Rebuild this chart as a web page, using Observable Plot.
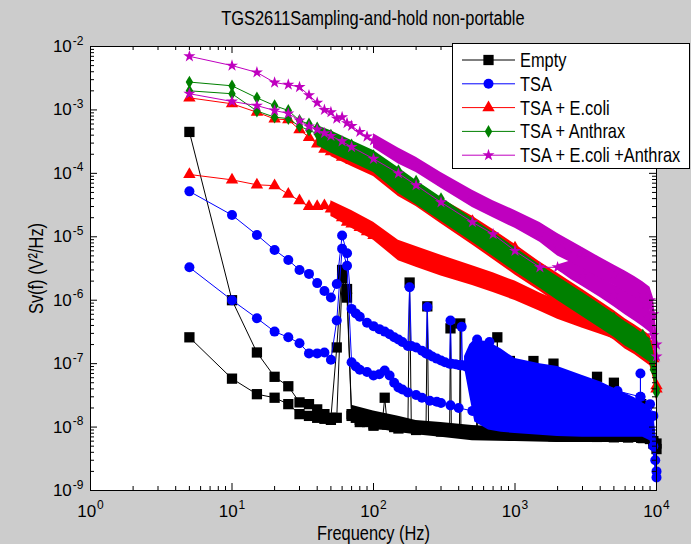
<!DOCTYPE html>
<html><head><meta charset="utf-8">
<script src="https://cdn.jsdelivr.net/npm/d3@7"></script>
<script src="https://cdn.jsdelivr.net/npm/@observablehq/plot@0.6"></script>
<style>
html,body{margin:0;padding:0;background:#cccccc;}
#wrap{position:relative;width:691px;height:544px;overflow:hidden;background:#cccccc;font-family:"Liberation Sans",Arial,sans-serif;}
#title{position:absolute;left:90px;width:566px;top:6px;text-align:center;line-height:24px;color:#000;}
#title span{display:inline-block;font-size:20px;transform:scaleX(0.82);white-space:nowrap;}
#chart{position:absolute;left:0;top:30px;}
#legend{position:absolute;left:0;top:0;pointer-events:none;}
</style></head><body>
<div id="wrap"><div id="title"><span>TGS2611Sampling-and-hold non-portable</span></div><div id="chart"></div><svg id="legend" width="691" height="544"></svg></div>
<script>
const FONT = '"Liberation Sans",Arial,sans-serif';
const CONDENSE = 0.82;

// ---- series names / colours ----
const seriesNames = ["Empty", "TSA", "TSA + E.coli", "TSA + Anthrax", "TSA + E.coli +Anthrax"];
const seriesColors = ["#000000", "#0000ff", "#ff0000", "#008000", "#bf00bf"];
const seriesSymbols = ["square", "circle", "triangle", "diamond", "star"];

// ---- Empty (two runs) ----
const emptyA_f = [5,10,15,20,25,30,35,40,45,50,55,60,65,70,75,80,90,100,115,120,125,140,175,180,185,200,235,240,245,300,345,350,355,405,410,415,535,540,545,745,750,755,915,920,925,1345,1350,1355,1865,1870,1875,3795,3800,3805,4995,5000,5005,6295,6300,6305,7795,7800,7805,9000,9500,10000];
const emptyA_v = [4.5e-4,1.0e-6,1.5e-7,6.2e-8,4.4e-8,2.45e-8,2.3e-8,1.9e-8,1.6e-8,1.4e-8,1.8e-7,3.0e-6,1.5e-6,1.6e-8,1.4e-8,1.3e-8,1.2e-8,1.1e-8,1.1e-8,2.9e-8,1.1e-8,1.0e-8,1.0e-8,1.9e-6,1.0e-8,9.8e-9,9.5e-9,8.0e-7,9.5e-9,9.0e-9,8.8e-9,3.6e-7,8.8e-9,8.5e-9,4.3e-7,8.5e-9,8.2e-9,1.3e-7,8.2e-9,8.0e-9,2.6e-7,8.0e-9,7.8e-9,1.1e-7,7.8e-9,7.5e-9,1.1e-7,7.5e-9,7.2e-9,1.0e-7,7.2e-9,7.0e-9,6.2e-8,7.0e-9,7.0e-9,5.0e-8,7.0e-9,6.9e-9,2.3e-8,6.9e-9,6.8e-9,2.3e-8,6.8e-9,6.5e-9,6.0e-9,5.5e-9];
const emptyB_f = [5,10,15,20,25,30,35,40,45,50,55,60,65,70,80,100,150,200,300,500,1000,2000,5000,8000,9000,9500,10000];
const emptyB_v = [2.6e-7,5.8e-8,3.3e-8,2.9e-8,2.3e-8,1.6e-8,1.5e-8,1.4e-8,1.35e-8,1.3e-8,1.4e-8,2.2e-6,1.1e-6,1.5e-8,1.2e-8,1.05e-8,9.5e-9,9.0e-9,8.5e-9,8.0e-9,7.6e-9,7.2e-9,6.9e-9,6.7e-9,6.5e-9,5.5e-9,4.5e-9];
const emptyBand_f  = [70,100,150,200,300,500,1000,2000,5000,8000,9000,9500,10000];
const emptyBand_hi = [2.2e-8,1.8e-8,1.48e-8,1.27e-8,1.18e-8,1.06e-8,9.8e-9,9.5e-9,9.1e-9,8.8e-9,8.5e-9,7.9e-9,6.1e-9];
const emptyBand_lo = [1.27e-8,9.5e-9,8.2e-9,7.6e-9,6.9e-9,6.1e-9,5.9e-9,5.7e-9,5.7e-9,5.7e-9,5.3e-9,4.7e-9,4.3e-9];

// ---- TSA ----
const tsaA_f = [5,10,15,20,25,30,35,40,45,50,55,60,65,70,75,80,90,100,110,120,130,140,150,160,175,180,185,200,220,235,240,245,260,280,300,320,345,350,355,380,400,415,420,425,450,500,535,540,545,655,660,665,700,1000,2000,4000,5300,7695,7700,7705,9000,9500,10000];
const tsaA_v = [5.2e-5,2.2e-5,1.07e-5,6.2e-6,4.3e-6,3.0e-6,2.6e-6,1.86e-6,1.4e-6,1.1e-6,1.8e-6,1.05e-5,5.5e-6,7.3e-7,6.2e-7,5.5e-7,4.4e-7,3.9e-7,3.5e-7,3.2e-7,2.9e-7,2.6e-7,2.4e-7,2.2e-7,1.9e-7,1.6e-6,1.9e-7,1.8e-7,1.6e-7,1.45e-7,7.8e-7,1.4e-7,1.3e-7,1.2e-7,1.12e-7,1.05e-7,1.0e-7,4.8e-7,1.0e-7,9.8e-8,9.5e-8,9.4e-8,3.8e-7,9.4e-8,9.0e-8,8.5e-8,8.4e-8,2.4e-7,8.4e-8,8.0e-8,2.2e-7,8.0e-8,7.8e-8,7.0e-8,5.5e-8,4.2e-8,3.7e-8,3.0e-8,7.0e-8,3.0e-8,2.3e-8,1.5e-8,2.0e-9];
const tsaB_f = [5,10,15,20,25,30,35,40,45,50,55,60,65,70,75,80,90,100,110,120,130,140,150,160,175,200,220,250,280,300,350,400,500,1000,2000,5000,8000,9000,9500,9800,10000];
const tsaB_v = [3.3e-6,1.0e-6,5.2e-7,3.2e-7,2.6e-7,2.1e-7,1.45e-7,1.45e-7,1.5e-7,1.15e-7,4.8e-7,6.5e-6,3.5e-6,1.05e-7,9.0e-8,8.0e-8,7.4e-8,6.5e-8,6.8e-8,7.8e-8,6.5e-8,5.0e-8,4.2e-8,3.9e-8,3.5e-8,3.2e-8,2.9e-8,2.6e-8,2.5e-8,2.4e-8,2.2e-8,2.0e-8,1.8e-8,1.3e-8,1.1e-8,1.0e-8,9.5e-9,8.5e-9,5.0e-9,3.0e-9,1.6e-9];
const tsaBand_f  = [440,480,520,650,800,1000,1500,2000,3000,4000,5000,6000,7000,8000,9000,9500,10000];
const tsaBand_hi = [1.3e-7,2.0e-7,2.4e-7,2.2e-7,1.7e-7,1.2e-7,1.0e-7,9.0e-8,6.5e-8,5.2e-8,4.1e-8,3.4e-8,2.9e-8,2.4e-8,2.1e-8,1.52e-8,6.1e-9];
const tsaBand_lo = [8.5e-8,3.0e-8,1.2e-8,9.0e-9,8.3e-9,7.9e-9,7.4e-9,7.1e-9,6.9e-9,6.9e-9,6.9e-9,6.9e-9,6.9e-9,6.9e-9,6.1e-9,3.6e-9,1.35e-9];

// ---- TSA + E.coli ----
const ecoA_f = [5,10,15,20,25,30,35,40,45,50,55,60,65,70,80,90,100,150,200,300,500,1000,2000,5000,8000,9000,9500,10000];
const ecoA_v = [9.6e-5,7.9e-5,6.6e-5,6.4e-5,4.7e-5,3.7e-5,3.0e-5,3.0e-5,3.1e-5,2.75e-5,2.4e-5,2.0e-5,1.7e-5,1.6e-5,1.4e-5,1.2e-5,1.05e-5,6.0e-6,4.7e-6,3.3e-6,2.3e-6,1.5e-6,7.8e-7,3.6e-7,2.4e-7,2.0e-7,1.3e-7,4.5e-8];
const ecoA_bf = [50,70,100,150,200,300,500,700,1000,1500,2000,3000,4000,5000,6000,7000,8000,9000,9500,10000];
const ecoA_hi = [3.7e-5,2.6e-5,1.7e-5,8.8e-6,7.0e-6,5.1e-6,3.5e-6,2.7e-6,2.0e-6,1.3e-6,9.9e-7,6.9e-7,5.5e-7,4.8e-7,4.1e-7,3.6e-7,3.1e-7,2.6e-7,1.8e-7,1.0e-7];
const ecoA_lo = [2.1e-5,1.36e-5,8.8e-6,4.2e-6,3.3e-6,2.4e-6,1.7e-6,1.32e-6,9.9e-7,6.7e-7,5.0e-7,3.6e-7,2.9e-7,2.45e-7,2.1e-7,1.8e-7,1.55e-7,1.25e-7,8.4e-8,3.5e-8];
const ecoB_f = [5,10,15,20,25,30,35,40,45,50,60,70,100,150,200,300,500,1000,2000,5000,8000,9500,10000];
const ecoB_v = [1.55e-3,1.25e-3,9.2e-4,7.2e-4,7.0e-4,4.9e-4,3.7e-4,2.9e-4,2.4e-4,2.2e-4,1.8e-4,1.6e-4,1.2e-4,6.3e-5,4.7e-5,3.2e-5,1.75e-5,6.7e-6,1.7e-6,5.3e-7,2.5e-7,1.2e-7,4.0e-8];
const ecoB_bf = [50,70,100,150,200,300,500,700,1000,1500,2000,3000,4000,5000,6000,7000,8000,9000,9500,10000];
const ecoB_hi = [2.65e-4,2.1e-4,1.6e-4,9.2e-5,6.9e-5,4.0e-5,2.1e-5,1.3e-5,7.6e-6,4.0e-6,2.65e-6,1.47e-6,9.6e-7,6.9e-7,5.1e-7,4.1e-7,3.35e-7,2.8e-7,1.8e-7,8.0e-8];
const ecoB_lo = [1.85e-4,1.28e-4,8.9e-5,4.3e-5,3.0e-5,1.6e-5,7.4e-6,4.4e-6,2.5e-6,1.39e-6,8.9e-7,4.9e-7,3.2e-7,2.35e-7,1.7e-7,1.39e-7,1.12e-7,9.3e-8,5.8e-8,2.5e-8];

// ---- TSA + Anthrax ----
const antA_f = [5,10,15,20,25,30,35,40,50,70,100,150,200,300,500,1000,2000,5000,8000,9500,10000];
const antA_v = [2.75e-3,2.4e-3,1.55e-3,1.17e-3,9.8e-4,6.8e-4,6.0e-4,5.2e-4,4.0e-4,2.8e-4,1.9e-4,1.1e-4,7.5e-5,4.0e-5,1.6e-5,5.5e-6,1.8e-6,5.2e-7,2.8e-7,1.1e-7,3.5e-8];
const antB_f = [5,10,15,20,25,30,35,40,50,70,100,150,200,300,500,1000,2000,5000,8000,9500,10000];
const antB_v = [2.0e-3,1.8e-3,9.6e-4,7.7e-4,7.3e-4,5.5e-4,4.8e-4,4.2e-4,3.3e-4,2.4e-4,1.6e-4,8.5e-5,6.0e-5,3.2e-5,1.1e-5,4.0e-6,1.3e-6,4.2e-7,2.3e-7,8.0e-8,4.0e-8];
const antBand_f  = [40,50,70,100,150,200,300,500,700,1000,1500,2000,3000,4000,5000,6000,7000,8000,9000,9500,10000];
const antBand_hi = [5.7e-4,4.7e-4,3.3e-4,2.3e-4,1.23e-4,7.7e-5,4.2e-5,1.94e-5,1.17e-5,6.8e-6,3.6e-6,2.37e-6,1.32e-6,8.6e-7,6.2e-7,4.6e-7,3.7e-7,3.0e-7,2.5e-7,1.6e-7,7.2e-8];
const antBand_lo = [2.75e-4,2.1e-4,1.5e-4,1.03e-4,4.8e-5,3.2e-5,1.75e-5,8.2e-6,4.9e-6,2.8e-6,1.55e-6,9.9e-7,5.5e-7,3.6e-7,2.6e-7,1.9e-7,1.55e-7,1.25e-7,1.04e-7,6.5e-8,2.8e-8];

// ---- TSA + E.coli +Anthrax ----
const mixA_f = [5,10,15,20,25,30,35,40,45,50,55,60,65,70,80,90,100,150,200,300,500,700,1000,1500,2000,3000,5000,8000,9000,9500,10000];
const mixA_v = [7.0e-3,5.0e-3,3.9e-3,2.7e-3,2.5e-3,2.3e-3,1.7e-3,1.3e-3,1.0e-3,9.2e-4,7.3e-4,7.7e-4,6.2e-4,5.6e-4,4.5e-4,3.8e-4,3.3e-4,2.0e-4,1.35e-4,7.7e-5,3.9e-5,2.7e-5,1.8e-5,1.15e-5,7.5e-6,4.6e-6,2.5e-6,1.3e-6,1.0e-6,6.0e-7,2.0e-7];
const mixA_bf = [100,150,200,300,500,700,1000,1500,2000,3000,4000,5000,6000,7000,8000,9000,9500,10000];
const mixA_hi = [4.2e-4,2.5e-4,1.8e-4,1.03e-4,5.4e-5,3.7e-5,2.6e-5,1.68e-5,1.13e-5,6.8e-6,4.7e-6,3.6e-6,2.9e-6,2.37e-6,1.95e-6,1.6e-6,1.1e-6,3.3e-7];
const mixA_lo = [2.5e-4,1.4e-4,1.03e-4,5.8e-5,2.9e-5,2.0e-5,1.36e-5,8.2e-6,5.0e-6,3.2e-6,2.2e-6,1.7e-6,1.37e-6,1.1e-6,9.2e-7,6.9e-7,4.0e-7,1.5e-7];
const mixB_f = [5,10,15,20,25,30,35,40,45,50,60,70,100,150,200,300,500,700,1000,1500,2000,3000,5000,8000,9000,9500,10000];
const mixB_v = [1.8e-3,1.36e-3,1.17e-3,9.8e-4,8.8e-4,6.8e-4,5.5e-4,4.9e-4,4.3e-4,3.9e-4,3.2e-4,2.6e-4,1.7e-4,1.0e-4,6.5e-5,3.5e-5,1.7e-5,1.1e-5,6.0e-6,3.3e-6,3.3e-6,2.4e-6,1.2e-6,6.2e-7,4.8e-7,2.8e-7,1.3e-7];
const mixB_bf = [2000,2500,3000,4000,5000,6000,7000,8000,9000,9500,10000];
const mixB_hi = [3.6e-6,4.2e-6,3.4e-6,2.3e-6,1.75e-6,1.42e-6,1.15e-6,9.6e-7,7.2e-7,4.2e-7,1.6e-7];
const mixB_lo = [3.0e-6,2.1e-6,1.65e-6,1.1e-6,7.9e-7,5.9e-7,4.7e-7,3.8e-7,3.1e-7,2.0e-7,9.3e-8];

// ---- axis ticks ----
const xMajor = [1, 10, 100, 1000, 10000];
const yMajor = [1e-9, 1e-8, 1e-7, 1e-6, 1e-5, 1e-4, 1e-3, 1e-2];
const xMinor = [], yMinor = [];
for (let k = 0; k < 4; k++) for (let m = 2; m < 10; m++) xMinor.push(m * 10 ** k);
for (let k = -9; k < -2; k++) for (let m = 2; m < 10; m++) yMinor.push(m * 10 ** k);

const rows = (fs, vs) => fs.map((f, i) => ({f, v: vs[i]}));
const bandRows = (fs, lo, hi) => fs.map((f, i) => ({f, lo: lo[i], hi: hi[i]}));
const R = {square: 5.8, circle: 5.0, triangle: 4.6, diamond: 3.9, star: 3.8};
function trace(fs, vs, idx) {
  const d = rows(fs, vs), c = seriesColors[idx], s = seriesSymbols[idx];
  return [
    Plot.line(d, {x: "f", y: "v", stroke: c, strokeWidth: 1}),
    Plot.dot(d, {x: "f", y: "v", fill: c, stroke: "none", symbol: s, r: R[s]})
  ];
}
function band(fs, lo, hi, idx) {
  return Plot.areaY(bandRows(fs, lo, hi), {x: "f", y1: "lo", y2: "hi", fill: seriesColors[idx], curve: "linear"});
}

const W = 691, H = 514, ML = 90, MR = 35, MT = 16, MB = 54;
const PW = W - ML - MR, PH = H - MT - MB;
const fmt = d => "10^" + Math.round(Math.log10(d));

const chart = Plot.plot({
  width: W, height: H,
  marginLeft: ML, marginRight: MR, marginTop: MT, marginBottom: MB,
  style: {background: "transparent", fontFamily: FONT, fontSize: "20px", color: "black", overflow: "visible"},
  x: {type: "log", domain: [1, 1e4]},
  y: {type: "log", domain: [1e-9, 1e-2]},
  marks: [
    Plot.frame({fill: "white", stroke: null}),
    band(emptyBand_f, emptyBand_lo, emptyBand_hi, 0),
    ...trace(emptyA_f, emptyA_v, 0),
    ...trace(emptyB_f, emptyB_v, 0),
    band(tsaBand_f, tsaBand_lo, tsaBand_hi, 1),
    ...trace(tsaA_f, tsaA_v, 1),
    ...trace(tsaB_f, tsaB_v, 1),
    band(ecoA_bf, ecoA_lo, ecoA_hi, 2),
    band(ecoB_bf, ecoB_lo, ecoB_hi, 2),
    ...trace(ecoA_f, ecoA_v, 2),
    ...trace(ecoB_f, ecoB_v, 2),
    band(antBand_f, antBand_lo, antBand_hi, 3),
    ...trace(antA_f, antA_v, 3),
    ...trace(antB_f, antB_v, 3),
    band(mixB_bf, mixB_lo, mixB_hi, 4),
    band(mixA_bf, mixA_lo, mixA_hi, 4),
    ...trace(mixB_f, mixB_v, 4),
    ...trace(mixA_f, mixA_v, 4),
    Plot.frame({stroke: "black", strokeWidth: 1}),
    Plot.tickX(xMinor, {x: d => d, insetTop: PH - 4, stroke: "black"}),
    Plot.tickX(xMajor, {x: d => d, insetTop: PH - 7, stroke: "black"}),
    Plot.tickX(xMinor, {x: d => d, insetBottom: PH - 4, stroke: "black"}),
    Plot.tickX(xMajor, {x: d => d, insetBottom: PH - 7, stroke: "black"}),
    Plot.tickY(yMinor, {y: d => d, insetRight: PW - 4, stroke: "black"}),
    Plot.tickY(yMajor, {y: d => d, insetRight: PW - 7, stroke: "black"}),
    Plot.tickY(yMinor, {y: d => d, insetLeft: PW - 4, stroke: "black"}),
    Plot.tickY(yMajor, {y: d => d, insetLeft: PW - 7, stroke: "black"}),
    Plot.axisX({ticks: xMajor, tickSize: 0, tickPadding: 14, tickFormat: fmt, label: "Frequency (Hz)", labelAnchor: "center", labelOffset: 49, labelArrow: "none"}),
    Plot.axisY({ticks: yMajor, tickSize: 0, tickPadding: 7, tickFormat: fmt, label: "Sv(f) (V²/Hz)", labelAnchor: "center", labelOffset: 62, labelArrow: "none"})
  ]
});
document.getElementById("chart").appendChild(chart);

// superscript exponents on tick labels
const NS = "http://www.w3.org/2000/svg";
const tickLabels = chart.querySelectorAll('g[aria-label="x-axis tick label"] text, g[aria-label="y-axis tick label"] text');
tickLabels.forEach(t => {
  const parts = t.textContent.split("^");
  if (parts.length !== 2) return;
  t.textContent = "";
  t.setAttribute("font-size", "17px");
  const b = document.createElementNS(NS, "tspan"); b.textContent = parts[0]; t.appendChild(b);
  const e = document.createElementNS(NS, "tspan"); e.setAttribute("dx", "1"); e.setAttribute("dy", "-0.62em"); e.setAttribute("font-size", "12px"); e.textContent = parts[1]; t.appendChild(e);
  t.dataset.tick = "1";
});
// condensed (narrow) lettering for the axis titles, like the original figure's font
chart.querySelectorAll("text").forEach(t => {
  if (t.dataset.tick || t.querySelector("tspan")) return;
  t.setAttribute("font-size", "20px");
  const L = t.getComputedTextLength();
  if (L > 0) { t.setAttribute("textLength", (L * CONDENSE).toFixed(2)); t.setAttribute("lengthAdjust", "spacingAndGlyphs"); }
});

// legend box (overlaid at the top right, as in the original)
const lg = d3.select("#legend");
lg.append("rect").attr("x", 452.5).attr("y", 43.5).attr("width", 237).attr("height", 125)
  .attr("fill", "white").attr("stroke", "black").attr("stroke-width", 1);
const symMap = {square: d3.symbolSquare, circle: d3.symbolCircle, triangle: d3.symbolTriangle, diamond: d3.symbolDiamond, star: d3.symbolStar};
seriesNames.forEach((name, i) => {
  const y = 60 + i * 23.8, c = seriesColors[i], s = seriesSymbols[i];
  lg.append("line").attr("x1", 462).attr("x2", 515).attr("y1", y).attr("y2", y).attr("stroke", c).attr("stroke-width", 1);
  lg.append("path").attr("d", d3.symbol(symMap[s], R[s] * R[s] * Math.PI)()).attr("transform", `translate(488.5,${y})`).attr("fill", c);
  lg.append("text").attr("transform", `translate(520,${y}) scale(${CONDENSE},1)`).attr("dy", "0.35em")
    .attr("font-size", 20).attr("font-family", FONT).text(name);
});
</script>
</body></html>
